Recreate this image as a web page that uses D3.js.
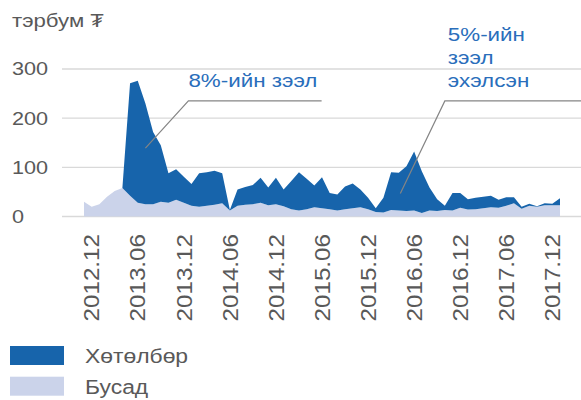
<!DOCTYPE html>
<html>
<head>
<meta charset="utf-8">
<script src="https://cdn.jsdelivr.net/npm/d3@7"></script>
<style>
  body { margin: 0; background: #fff; }
  text { font-family: "Liberation Sans", Arial, "DejaVu Sans", sans-serif; }
</style>
</head>
<body>
<div id="chart"></div>
<script>
// Monthly categories, 2012.11 .. 2018.01
const months = d3.timeMonth
  .range(new Date(2012, 10, 1), new Date(2018, 1, 1))
  .map(d3.timeFormat("%Y.%m"));

// Бусад (light series), тэрбум ₮
const other = [
  30, 20, 25, 40, 52, 58, 42, 28, 25, 25, 30, 28, 34, 28, 22, 20, 22, 24, 27, 12,
  22, 24, 25, 28, 23, 25, 21, 15, 12, 15, 19, 17, 15, 12, 15, 17, 19, 15, 9, 8,
  13, 12, 11, 12, 7, 12, 11, 13, 12, 18, 14, 15, 17, 19, 18, 22, 27, 16, 22, 20,
  23, 23, 23
];

// Хөтөлбөр (dark series), stacked on top of Бусад; starts 2013.04
const program = [
  null, null, null, null, null, 0, 229, 248, 205, 147, 115, 60, 62, 53, 44, 68, 68, 69, 61, 1,
  33, 36, 39, 51, 36, 54, 34, 57, 78, 62, 44, 63, 33, 33, 46, 50, 36, 23, 8, 30,
  77, 77, 91, 120, 85, 47, 24, 9, 36, 30, 21, 23, 23, 23, 16, 17, 12, 4, 4, 1,
  4, 3, 14
];

const seriesNames = ["Хөтөлбөр", "Бусад"];
const xTickLabels = ["2012.12", "2013.06", "2013.12", "2014.06", "2014.12", "2015.06",
  "2015.12", "2016.06", "2016.12", "2017.06", "2017.12"];
const yTicks = [0, 100, 200, 300];
const unitLabel = "тэрбум ₮";

const config = {
  width: 581,
  height: 400,
  plotLeft: 84,
  plotRight: 560,
  gridLeft: 62,
  gridRight: 581,
  yZero: 216.5,
  yTop: 69,
  dark: "#1764ab",
  light: "#cbd3ea",
  grid: "#d9d9d9",
  textGray: "#595959",
  blue: "#2a6ebb",
  leader: "#858585"
};

const svg = d3.select("#chart")
  .append("svg")
  .attr("width", config.width)
  .attr("height", config.height);

const x = d3.scaleLinear()
  .domain([0, months.length - 1])
  .range([config.plotLeft, config.plotRight]);

const y = d3.scaleLinear()
  .domain([0, 300])
  .range([config.yZero, config.yTop]);

// text in the source is slightly wider than Arial, so stretch it a bit
function stretchText(sel, px, py, sx, rot) {
  sel.attr("transform", `translate(${px},${py})` + (rot ? ` rotate(${rot})` : "") + ` scale(${sx},1)`);
  return sel;
}

// Grid lines
svg.append("g")
  .selectAll("line")
  .data(yTicks)
  .join("line")
  .attr("x1", config.gridLeft)
  .attr("x2", config.gridRight)
  .attr("y1", d => y(d))
  .attr("y2", d => y(d))
  .attr("stroke", config.grid)
  .attr("stroke-width", 1.3);

// Stack data
const rows = months.map((m, i) => ({ i: i, other: other[i], program: program[i] }));
const stack = d3.stack()
  .keys(["other", "program"])
  .value((d, key) => d[key] == null ? 0 : d[key]);
const layers = stack(rows);

const area = d3.area()
  .x(d => x(d.data.i))
  .y0(d => y(d[0]))
  .y1(d => y(d[1]));

svg.append("path")
  .datum(layers[0])
  .attr("fill", config.light)
  .attr("d", area);

svg.append("path")
  .datum(layers[1])
  .attr("fill", config.dark)
  .attr("d", area.defined(d => d.data.program != null));

// Y tick labels
svg.append("g")
  .selectAll("text")
  .data(yTicks)
  .join("text")
  .each(function (d) { stretchText(d3.select(this), 12, y(d), 1.17); })
  .attr("dy", "0.35em")
  .attr("font-size", 18.5)
  .attr("fill", config.textGray)
  .text(d => d);

// X tick labels, rotated
svg.append("g")
  .selectAll("text")
  .data(xTickLabels)
  .join("text")
  .each(function (d) { stretchText(d3.select(this), x(months.indexOf(d)), 234, 1.1, -90); })
  .attr("dy", "0.35em")
  .attr("text-anchor", "end")
  .attr("font-size", 22)
  .attr("fill", config.textGray)
  .text(d => d);

// Unit label
stretchText(svg.append("text"), 12, 27.3, 1.17)
  .attr("font-size", 19)
  .attr("fill", config.textGray)
  .text(unitLabel);

// Annotations (tip, elbow and end in data units)
const annotations = [
  { lines: ["8%-ийн зээл"], tip: [8, 139], elbow: [13.6, 235], end: 30.95, dx: 0 },
  { lines: ["5%-ийн", "зээл", "эхэлсэн"], tip: [41.2, 47], elbow: [47.0, 235], end: 64.8, dx: 3 }
];

annotations.forEach(a => {
  svg.append("path")
    .attr("d", d3.line()([
      [x(a.tip[0]), y(a.tip[1])],
      [x(a.elbow[0]), y(a.elbow[1])],
      [x(a.end), y(a.elbow[1])]
    ]))
    .attr("fill", "none")
    .attr("stroke", config.leader)
    .attr("stroke-width", 1.2);

  const n = a.lines.length;
  a.lines.forEach((t, k) => {
    stretchText(svg.append("text"), x(a.elbow[0]) + a.dx, y(a.elbow[1]) - 14 - (n - 1 - k) * 22.8, 1.21)
      .attr("font-size", 18.5)
      .attr("fill", config.blue)
      .text(t);
  });
});

// Legend
const legendColors = [config.dark, config.light];
const legend = svg.append("g")
  .selectAll("g")
  .data(seriesNames)
  .join("g")
  .attr("transform", (d, i) => `translate(10,${346 + i * 30.7})`);

legend.append("rect")
  .attr("width", 54)
  .attr("height", 19)
  .attr("fill", (d, i) => legendColors[i]);

legend.append("text")
  .each(function () { stretchText(d3.select(this), 75, 17.3, 1.09); })
  .attr("font-size", 21)
  .attr("fill", config.textGray)
  .text(d => d);
</script>
</body>
</html>
